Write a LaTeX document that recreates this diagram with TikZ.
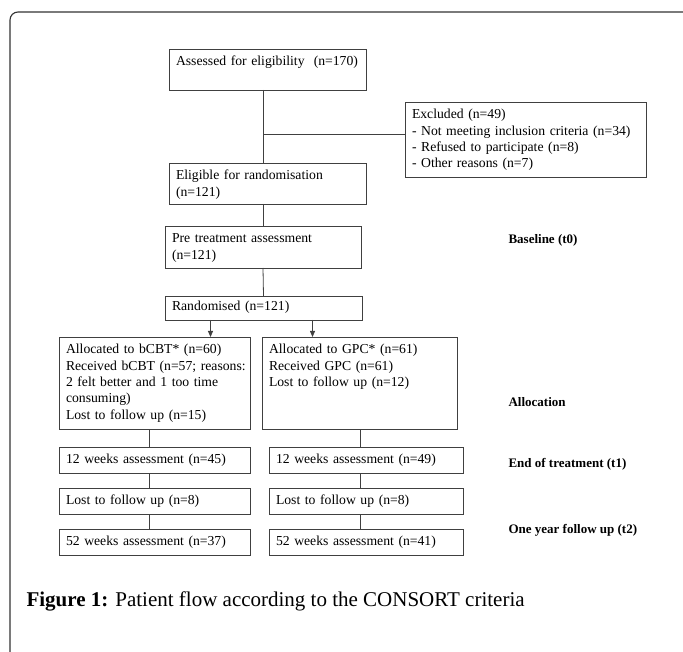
\documentclass[tikz,border=0pt]{standalone}
\usepackage{fontspec}
\setmainfont{Liberation Serif}
\usetikzlibrary{positioning,calc,arrows.meta}

\begin{document}
\begin{tikzpicture}
[   x=1pt, y=-1pt,
    box/.style={draw=black!75, line width=0.8pt, anchor=north west, align=left,
        inner xsep=7pt, inner ysep=5pt, outer sep=0pt, text height=12pt,
        font=\fontsize{13.7}{16.3}\selectfont},
    stage/.style={anchor=west, font=\fontsize{13}{15}\selectfont\bfseries},
    link/.style={draw=black!75, line width=0.8pt},
    arr/.style={link, -{Triangle[length=6pt,width=5pt]}},
]
    \useasboundingbox (0,0) rectangle (683,652);
    \draw[black!80, line width=1.1pt, rounded corners=8pt] (10,12) rectangle (691,700);

    % main column
    \node[box, text width=183pt, text depth=19pt] (assess) at (169,49) {Assessed for eligibility~~(n=170)};
    \node[box, text width=227pt, text depth=53pt] (excl) at (405,102) {Excluded (n=49)\\- Not meeting inclusion criteria (n=34)\\- Refused to participate (n=8)\\- Other reasons (n=7)};
    \node[box, text width=183pt, text depth=19pt] (elig) at (169,163) {Eligible for randomisation\\(n=121)};
    \node[box, text width=182pt, text depth=20pt] (pre) at (165,226) {Pre treatment assessment\\(n=121)};
    \node[box, text width=183pt, text height=10pt, text depth=4pt] (rand) at (165,296) {Randomised (n=121)};

    % the two arms
    \node[box, text width=177pt, text depth=70pt] (bcbt) at (59,337) {Allocated to bCBT* (n=60)\\\mbox{Received bCBT (n=57; reasons:}\\2 felt better and 1 too time\\consuming)\\Lost to follow up (n=15)};
    \node[box, text width=181pt, text depth=70pt] (gpc) at (262,337) {Allocated to GPC* (n=61)\\Received GPC (n=61)\\Lost to follow up (n=12)};

    \foreach \y/\l/\r [count=\i] in {447/12 weeks assessment (n=45)/12 weeks assessment (n=49),
                                     488/Lost to follow up (n=8)/Lost to follow up (n=8),
                                     529/52 weeks assessment (n=37)/52 weeks assessment (n=41)}
    {
        \node[box, text width=177pt, text height=11pt, text depth=5pt] (l-\i) at (59,\y) {\l};
        \node[box, text width=180pt, text height=11pt, text depth=5pt] (r-\i) at (269,\y) {\r};
    }

    % stages
    \node[stage] (t0) at (505,240) {Baseline (t0)};
    \node[stage] (alloc) at (505,402) {Allocation};
    \node[stage] (t1) at (505,464) {End of treatment (t1)};
    \node[stage] (t2) at (505,530) {One year follow up (t2)};

    \node[anchor=base west, font=\fontsize{21}{25}\selectfont] (caption) at (23,606) {\textbf{Figure 1:} Patient flow according to the CONSORT criteria};

    % connectors
    \coordinate (branch) at ([yshift=5pt]excl.west);
    \draw[link] (pre.north |- assess.south) -- (pre.north |- elig.north);
    \draw[link] (pre.north |- branch) -- (branch);
    \draw[link] (pre.north |- elig.south) -- (pre.north);
    \draw[link] (pre.south) -- (rand.north);

    \coordinate (a-1) at ([xshift=-53pt]rand.south);
    \coordinate (a-2) at ([xshift=49pt]rand.south);
    \draw[arr] (a-1) -- (a-1 |- bcbt.north);
    \draw[arr] (a-2) -- (a-2 |- gpc.north);

    \coordinate (c-l) at (149,0);
    \coordinate (c-r) at (360,0);
    \draw[link] (c-l |- bcbt.south) -- (c-l |- l-1.north);
    \draw[link] (c-r |- gpc.south) -- (c-r |- r-1.north);
    \foreach \i [evaluate=\i as \j using int(\i+1)] in {1,2}
    {
        \draw[link] (c-l |- l-\i.south) -- (c-l |- l-\j.north);
        \draw[link] (c-r |- r-\i.south) -- (c-r |- r-\j.north);
    }
\end{tikzpicture}
\end{document}
